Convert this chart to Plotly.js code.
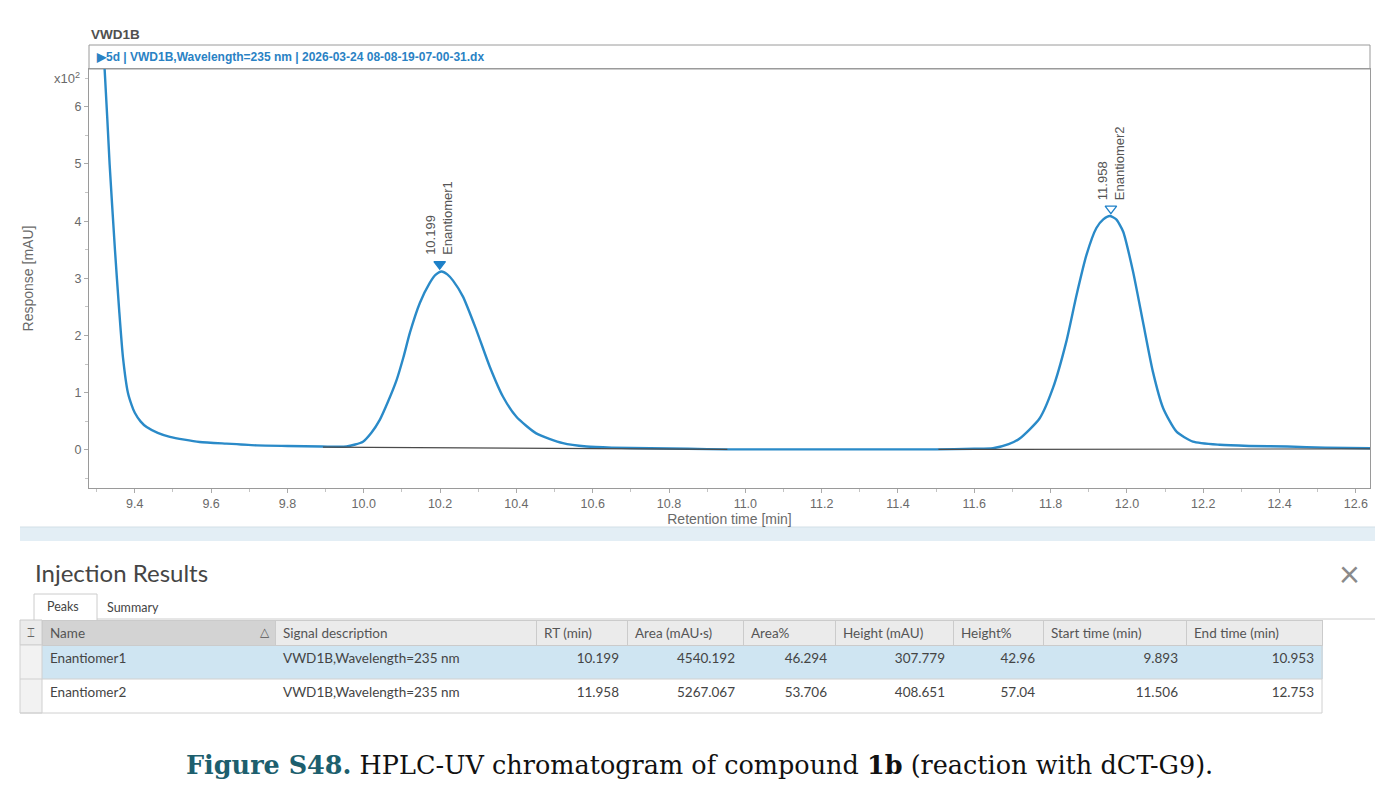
<!DOCTYPE html>
<html><head><meta charset="utf-8">
<script src="https://cdn.plot.ly/plotly-3.0.1.min.js"></script>
<style>html,body{margin:0;padding:0;background:#fff;} #chart{width:1396px;height:797px;}</style>
</head><body><div id="chart"></div>
<script>
// ---- data (response in x10^2 mAU) ----
const retentionTime = [9.310, 9.321, 9.334, 9.348, 9.359, 9.369, 9.382, 9.392, 9.400, 9.415, 9.431, 9.460, 9.492, 9.530, 9.570, 9.640, 9.720, 9.800, 9.890, 9.955, 9.998, 10.020, 10.042, 10.064, 10.086, 10.104, 10.121, 10.147, 10.173, 10.188, 10.204, 10.219, 10.234, 10.260, 10.295, 10.330, 10.365, 10.400, 10.452, 10.522, 10.584, 10.650, 10.750, 10.850, 10.950, 11.100, 11.300, 11.500, 11.600, 11.649, 11.690, 11.719, 11.771, 11.806, 11.841, 11.868, 11.894, 11.920, 11.938, 11.955, 11.972, 11.990, 12.016, 12.042, 12.068, 12.095, 12.130, 12.173, 12.243, 12.320, 12.420, 12.520, 12.640];
const response = [7.50, 6.65, 5.00, 3.50, 2.45, 1.62, 1.00, 0.78, 0.65, 0.50, 0.40, 0.30, 0.23, 0.18, 0.14, 0.11, 0.08, 0.07, 0.06, 0.06, 0.145, 0.30, 0.525, 0.85, 1.22, 1.62, 2.05, 2.57, 2.92, 3.06, 3.12, 3.07, 2.96, 2.68, 2.10, 1.46, 0.93, 0.58, 0.29, 0.12, 0.06, 0.04, 0.03, 0.02, 0.01, 0.01, 0.01, 0.01, 0.02, 0.03, 0.10, 0.20, 0.55, 1.08, 1.89, 2.71, 3.41, 3.88, 4.03, 4.09, 4.03, 3.82, 3.12, 2.24, 1.37, 0.73, 0.32, 0.145, 0.09, 0.07, 0.06, 0.04, 0.03];

const peakNames = ['Enantiomer1', 'Enantiomer2'];
const signalDesc = ['VWD1B,Wavelength=235 nm', 'VWD1B,Wavelength=235 nm'];
const peakRT = [10.199, 11.958];
const peakArea = [4540.192, 5267.067];
const areaPct = [46.294, 53.706];
const peakHeight = [307.779, 408.651];
const heightPct = [42.96, 57.04];
const startTime = [9.893, 11.506];
const endTime = [10.953, 12.753];
const markerLevel = [3.25, 4.22];
const labelLevel = [3.37, 4.33];
const markerSymbols = ['triangle-down', 'triangle-down-open'];
const baselineStartY = [0.05, 0.01];
const baselineEndY = [0.01, 0.02];

const xTickVals = [9.4, 9.6, 9.8, 10.0, 10.2, 10.4, 10.6, 10.8, 11.0, 11.2, 11.4, 11.6, 11.8, 12.0, 12.2, 12.4, 12.6];
const xTickText = ['9.4', '9.6', '9.8', '10.0', '10.2', '10.4', '10.6', '10.8', '11.0', '11.2', '11.4', '11.6', '11.8', '12.0', '12.2', '12.4', '12.6'];
const yTickVals = [0, 1, 2, 3, 4, 5, 6];
const yTickText = ['0', '1', '2', '3', '4', '5', '6'];
const tableHeaders = ['Name', 'Signal description', 'RT (min)', 'Area (mAU·s)', 'Area%', 'Height (mAU)', 'Height%', 'Start time (min)', 'End time (min)'];

// ---- helpers for page-pixel placement ----
const W = 1396, H = 797;
const px = x => x / W;
const py = y => 1 - y / H;
const blue = 'rgb(42,138,200)';
const sans = 'Liberation Sans, Arial, sans-serif';
const axisFont = {family: sans, size: 12.5, color: '#6a6a6a'};
const uiFont = 'Lato, Open Sans, sans-serif';

const traces = [];
traces.push({
  type: 'scatter', mode: 'lines', x: retentionTime, y: response,
  line: {color: blue, width: 2.4, shape: 'spline', smoothing: 0.6},
  hoverinfo: 'skip', showlegend: false
});
for (let i = 0; i < peakRT.length; i++) {
  traces.push({
    type: 'scatter', mode: 'lines', x: [startTime[i], endTime[i]], y: [baselineStartY[i], baselineEndY[i]],
    line: {color: '#4a4a4a', width: 1.2}, hoverinfo: 'skip', showlegend: false
  });
}
traces.push({
  type: 'scatter', mode: 'markers', x: peakRT, y: markerLevel,
  marker: {symbol: markerSymbols, size: 10, color: 'rgb(30,128,200)', line: {color: 'rgb(30,128,200)', width: 1.3}},
  hoverinfo: 'skip', showlegend: false
});

const colAlign = ['left', 'left', 'right', 'right', 'right', 'right', 'right', 'right', 'right'];
const headerFill = tableHeaders.map((h, i) => i === 0 ? '#d3d3d3' : '#ebebeb');
const rowFill = ['#cfe5f2', '#ffffff'];
const cellFill = tableHeaders.map(() => rowFill);
traces.push({
  type: 'table',
  domain: {x: [px(42), px(1322)], y: [py(713), py(620)]},
  columnwidth: [233, 261, 91, 116, 92, 118, 90, 143, 136],
  header: {
    values: tableHeaders, align: 'left', height: 25,
    fill: {color: headerFill}, line: {color: '#cbcbcb', width: 1},
    font: {family: uiFont, size: 13.5, color: '#555'}
  },
  cells: {
    values: [peakNames, signalDesc,
      peakRT.map(v => v.toFixed(3)), peakArea.map(v => v.toFixed(3)), areaPct.map(v => v.toFixed(3)),
      peakHeight.map(v => v.toFixed(3)), heightPct.map(v => v.toFixed(2)),
      startTime.map(v => v.toFixed(3)), endTime.map(v => v.toFixed(3))],
    align: colAlign, height: 34,
    fill: {color: cellFill}, line: {color: cellFill, width: 1},
    font: {family: uiFont, size: 13.5, color: '#444'}
  }
});

const annotations = [
  {text: '<b>VWD1B</b>', x: px(89), y: py(34), xref: 'paper', yref: 'paper', xanchor: 'left', yanchor: 'middle', showarrow: false,
   font: {family: sans, size: 13.5, color: '#505050'}},
  {text: '<b>▶5d | VWD1B,Wavelength=235 nm | 2026-03-24 08-08-19-07-00-31.dx</b>', x: px(94), y: py(57), xref: 'paper', yref: 'paper',
   xanchor: 'left', yanchor: 'middle', showarrow: false, font: {family: sans, size: 12, color: '#2a82c4'}},
  {text: 'x10<sup>2</sup>', x: px(82), y: py(78), xref: 'paper', yref: 'paper', xanchor: 'right', yanchor: 'middle', showarrow: false,
   font: {family: sans, size: 13, color: '#6a6a6a'}},
  {text: 'Injection Results', x: px(33), y: py(572), xref: 'paper', yref: 'paper', xanchor: 'left', yanchor: 'middle', showarrow: false,
   font: {family: uiFont, size: 24, color: '#454545'}},
  {text: '×', x: px(1349), y: py(573), xref: 'paper', yref: 'paper', xanchor: 'center', yanchor: 'middle', showarrow: false,
   font: {family: uiFont, size: 36, color: '#8a8a8a'}},
  {text: 'Peaks', x: px(45), y: py(606), xref: 'paper', yref: 'paper', xanchor: 'left', yanchor: 'middle', showarrow: false,
   font: {family: uiFont, size: 12.5, color: '#444'}},
  {text: 'Summary', x: px(105), y: py(607), xref: 'paper', yref: 'paper', xanchor: 'left', yanchor: 'middle', showarrow: false,
   font: {family: uiFont, size: 12.5, color: '#444'}},
  {text: '⌶', x: px(31), y: py(632), xref: 'paper', yref: 'paper', xanchor: 'center', yanchor: 'middle', showarrow: false,
   font: {family: 'DejaVu Sans, sans-serif', size: 13, color: '#666'}},
  {text: '△', x: px(265), y: py(632), xref: 'paper', yref: 'paper', xanchor: 'center', yanchor: 'middle', showarrow: false,
   font: {family: 'DejaVu Sans, sans-serif', size: 12, color: '#555'}},
  {text: '<span style="color:#1d5f6e"><b>Figure S48.</b></span> HPLC-UV chromatogram of compound <b>1b</b> (reaction with dCT-G9).',
   x: px(699), y: py(765), xref: 'paper', yref: 'paper', xanchor: 'center', yanchor: 'middle', showarrow: false,
   font: {family: 'DejaVu Serif, serif', size: 25.5, color: '#111'}}
];
for (let i = 0; i < peakRT.length; i++) {
  annotations.push({
    text: peakRT[i].toFixed(3) + '<br>' + peakNames[i], x: peakRT[i], y: labelLevel[i], xref: 'x', yref: 'y',
    textangle: -90, xanchor: 'center', yanchor: 'bottom', align: 'left', showarrow: false,
    font: {family: sans, size: 13, color: '#555'}
  });
}

const gridLine = {color: '#d0d0d0', width: 1};
const shapes = [
  {type: 'rect', xref: 'paper', yref: 'paper', x0: px(89), x1: px(1370), y0: py(69), y1: py(45), line: {color: '#9a9a9a', width: 1}, fillcolor: '#ffffff', layer: 'below'},
  {type: 'rect', xref: 'paper', yref: 'paper', x0: px(20), x1: px(1375), y0: py(541), y1: py(527), line: {width: 0}, fillcolor: '#e3eef5'},
  {type: 'line', xref: 'paper', yref: 'paper', x0: px(20), x1: px(1375), y0: py(527), y1: py(527), line: {color: '#d2dfe7', width: 1}},
  {type: 'line', xref: 'paper', yref: 'paper', x0: px(97), x1: px(1375), y0: py(619), y1: py(619), line: {color: '#cccccc', width: 1}},
  {type: 'path', xref: 'paper', yref: 'paper', path: `M ${px(34)} ${py(620)} L ${px(34)} ${py(594)} L ${px(97)} ${py(594)} L ${px(97)} ${py(620)}`, line: {color: '#cccccc', width: 1}},
  // row-selector column left of the table
  {type: 'rect', xref: 'paper', yref: 'paper', x0: px(20), x1: px(42), y0: py(645), y1: py(620), line: {color: '#cbcbcb', width: 1}, fillcolor: '#ebebeb'},
  {type: 'rect', xref: 'paper', yref: 'paper', x0: px(20), x1: px(42), y0: py(713), y1: py(645), line: {color: '#d0d0d0', width: 1}, fillcolor: '#f2f2f2'},
  // row separators and outer border of the body
  {type: 'line', xref: 'paper', yref: 'paper', x0: px(20), x1: px(1322), y0: py(679), y1: py(679), line: gridLine},
  {type: 'line', xref: 'paper', yref: 'paper', x0: px(20), x1: px(1322), y0: py(713), y1: py(713), line: gridLine},
  {type: 'line', xref: 'paper', yref: 'paper', x0: px(1322), x1: px(1322), y0: py(713), y1: py(645), line: gridLine}
];

const layout = {
  width: W, height: H, margin: {l: 0, r: 0, t: 0, b: 0},
  paper_bgcolor: '#ffffff', plot_bgcolor: '#ffffff',
  showlegend: false,
  xaxis: {
    domain: [px(89), px(1370)], range: [9.28, 12.637], tickmode: 'array', tickvals: xTickVals, ticktext: xTickText,
    ticks: 'outside', ticklen: 4, tickcolor: '#aaa', showgrid: false, zeroline: false,
    showline: true, mirror: true, linecolor: '#9a9a9a', linewidth: 1, tickfont: axisFont,
    minor: {tickmode: 'linear', tick0: 9.3, dtick: 0.1, ticks: 'outside', ticklen: 3, tickcolor: '#c4c4c4'},
    title: {text: 'Retention time [min]', font: {family: sans, size: 14, color: '#6a6a6a'}, standoff: 1}
  },
  yaxis: {
    domain: [py(488), py(69)], range: [-0.665, 6.66], tickmode: 'array', tickvals: yTickVals, ticktext: yTickText,
    ticks: 'outside', ticklen: 4, tickcolor: '#aaa', showgrid: false, zeroline: false,
    showline: true, mirror: true, linecolor: '#9a9a9a', linewidth: 1, tickfont: axisFont,
    minor: {tickmode: 'linear', tick0: 0.5, dtick: 1, ticks: 'outside', ticklen: 3, tickcolor: '#c4c4c4'},
    title: {text: 'Response [mAU]', font: {family: sans, size: 14, color: '#6a6a6a'}, standoff: 37}
  },
  annotations: annotations,
  shapes: shapes
};

Plotly.newPlot('chart', traces, layout, {staticPlot: true, displayModeBar: false});
</script></body></html>
